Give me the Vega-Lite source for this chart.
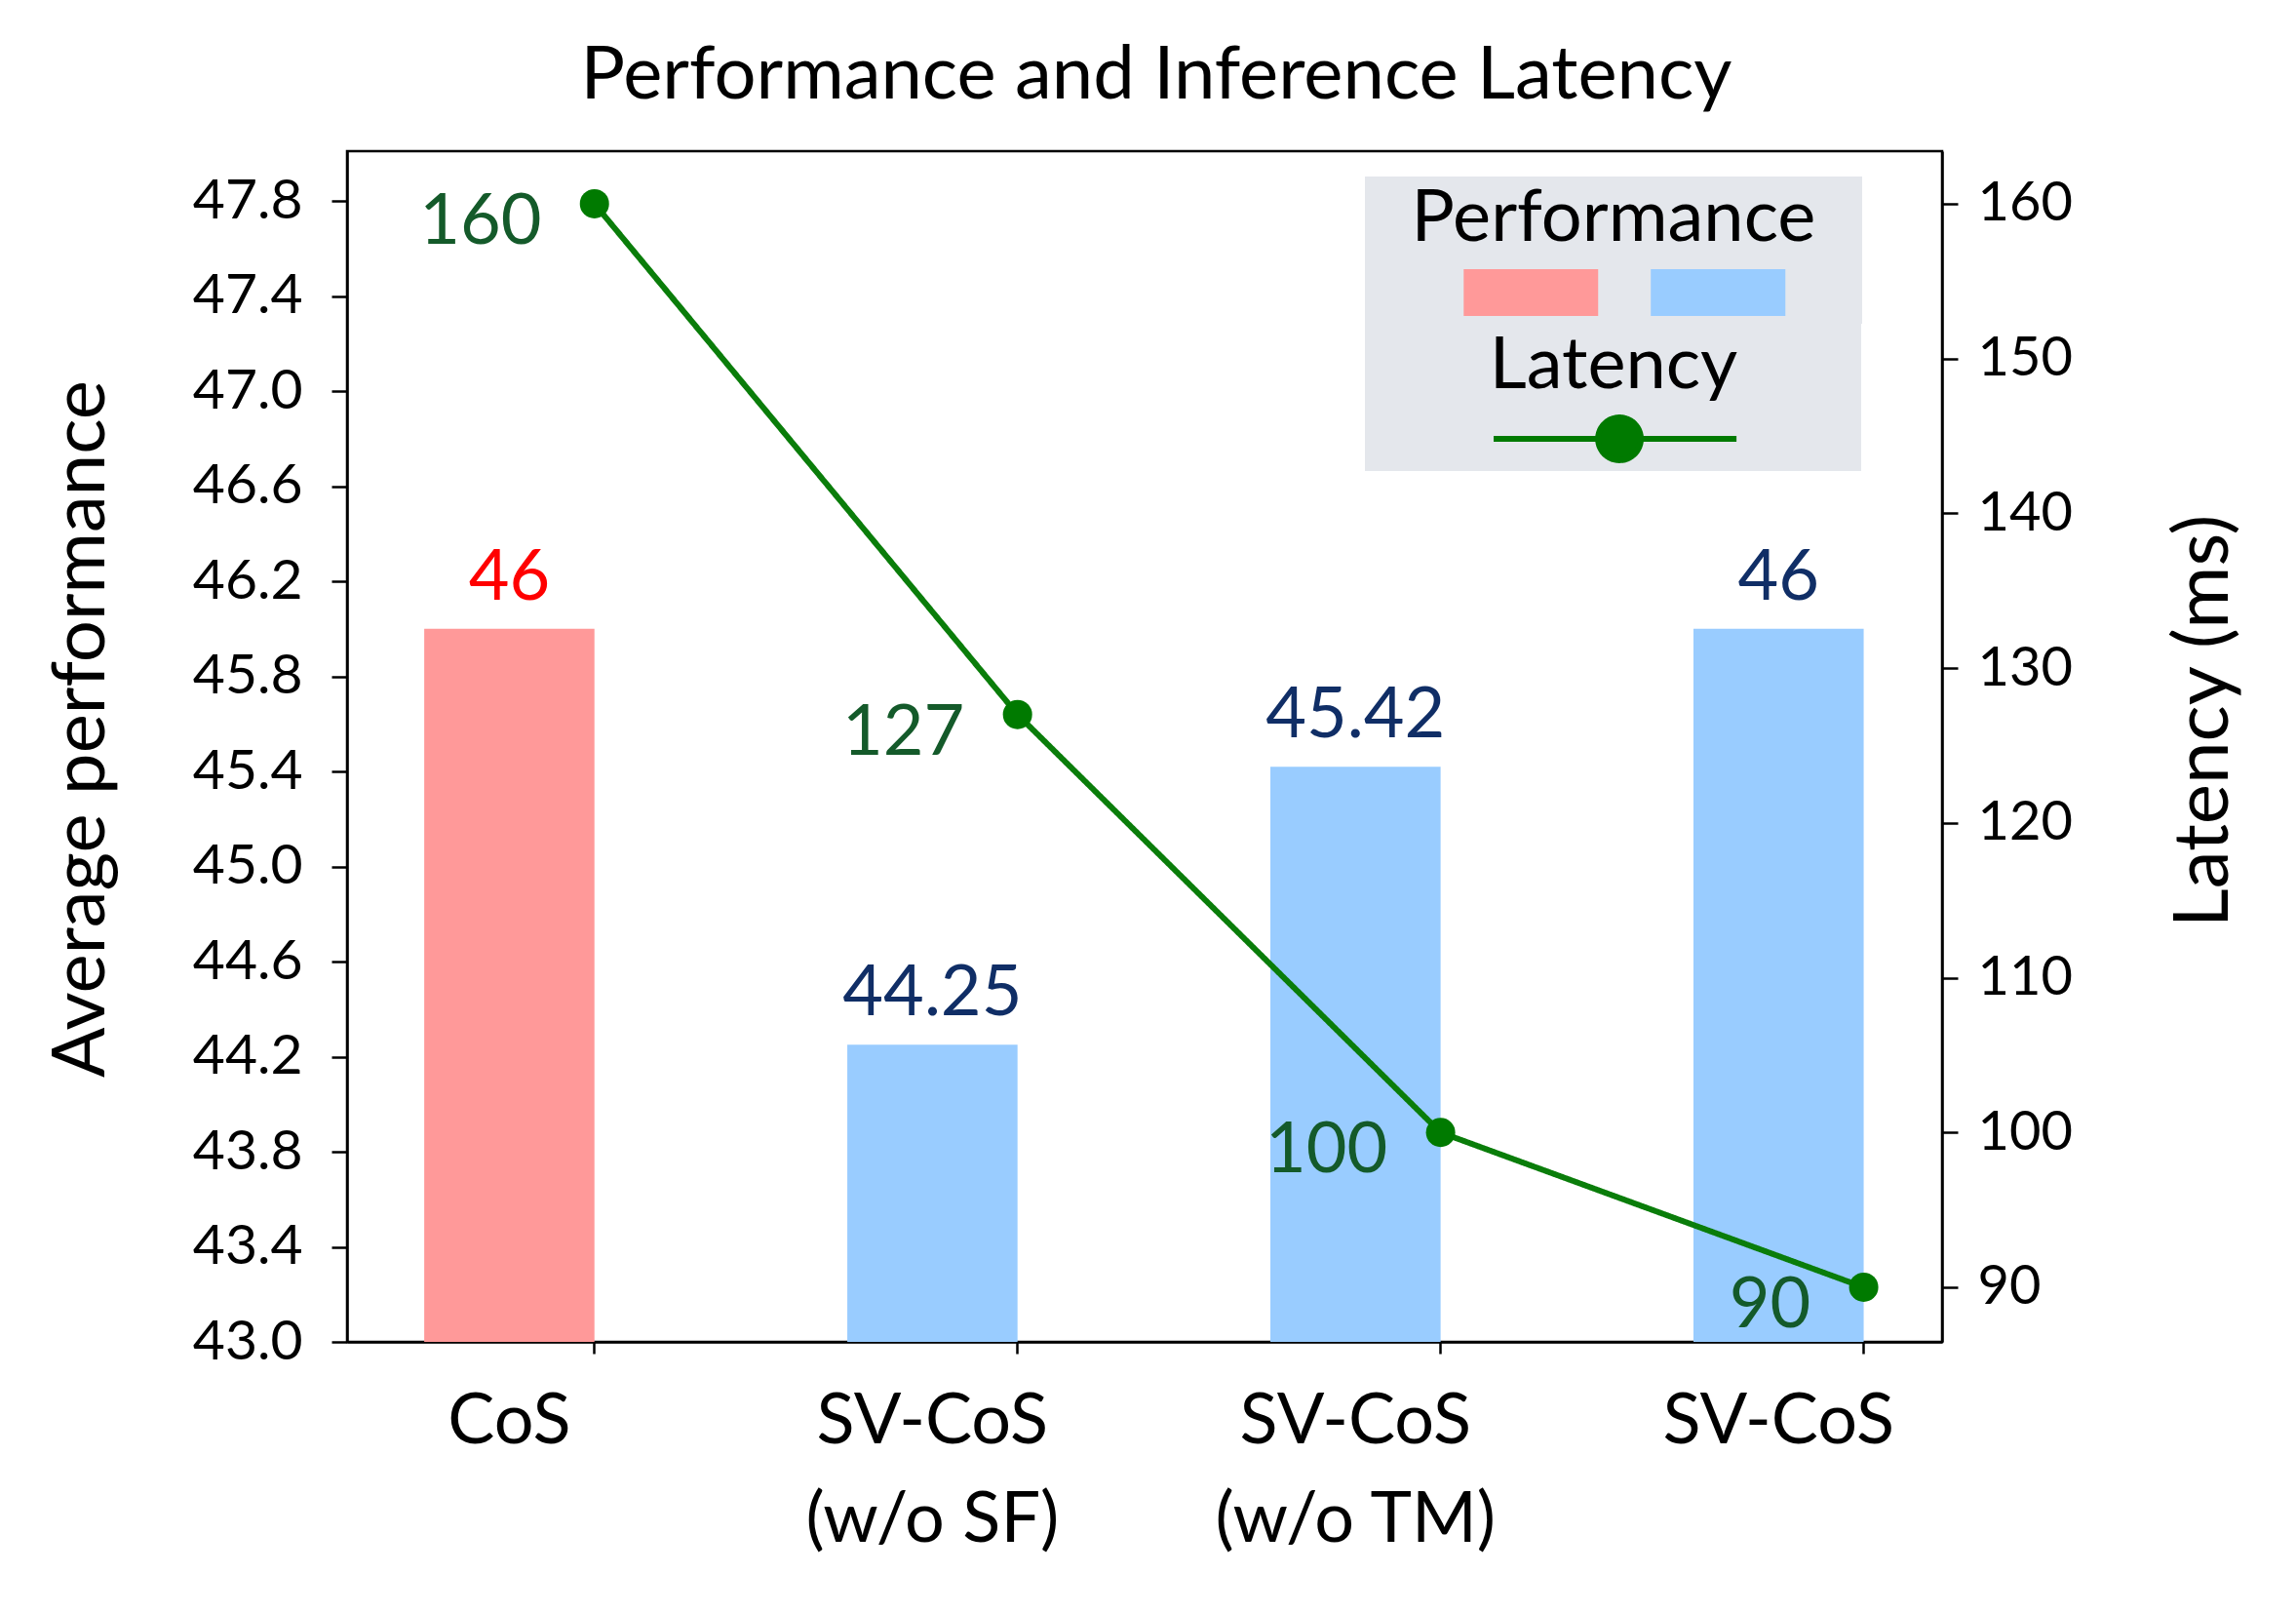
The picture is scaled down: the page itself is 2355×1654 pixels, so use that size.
{
  "$schema": "https://vega.github.io/schema/vega-lite/v6.json",
  "width": 1636,
  "height": 1221,
  "autosize": {"type": "none"},
  "padding": {"left": 356, "top": 155, "right": 363, "bottom": 278},
  "background": "white",
  "title": {
    "text": "Performance and Inference Latency",
    "font": "Lato",
    "fontSize": 76,
    "fontWeight": "normal",
    "color": "black",
    "anchor": "middle",
    "baseline": "bottom",
    "offset": -38,
    "dx": 12
  },
  "config": {
    "view": {"stroke": "black", "strokeWidth": 2.5},
    "font": "Lato",
    "axis": {
      "domainColor": "black",
      "domainWidth": 2.5,
      "tickColor": "black",
      "tickWidth": 2.5,
      "labelColor": "black",
      "titleColor": "black",
      "labelFont": "Lato",
      "titleFont": "Lato",
      "titleFontWeight": "normal",
      "labelLimit": 2000,
      "titleLimit": 3000,
      "grid": false
    }
  },
  "data": {
    "values": [
      {"method": "CoS", "pos": 0, "group": "CoS", "perf": 46, "latency": 160},
      {"method": "SV-CoS (w/o SF)", "pos": 1, "group": "SV-CoS", "perf": 44.25, "latency": 127},
      {"method": "SV-CoS (w/o TM)", "pos": 2, "group": "SV-CoS", "perf": 45.42, "latency": 100},
      {"method": "SV-CoS", "pos": 3, "group": "SV-CoS", "perf": 46, "latency": 90}
    ]
  },
  "encoding": {
    "x": {
      "field": "pos",
      "type": "quantitative",
      "scale": {"domain": [-0.372, 3.375], "nice": false, "zero": false},
      "axis": {
        "title": null,
        "values": [0.2, 1.2, 2.2, 3.2],
        "labelExpr": "datum.value < 0.5 ? 'CoS' : datum.value < 1.5 ? ['SV-CoS', '(w/o SF)'] : datum.value < 2.5 ? ['SV-CoS', '(w/o TM)'] : 'SV-CoS'",
        "labelOffset": -87.3,
        "labelFontSize": 72,
        "labelLineHeight": 101,
        "labelPadding": 34,
        "labelLimit": 2000,
        "tickSize": 12,
        "labelOverlap": false,
        "labelFlush": false,
        "labelBound": false
      }
    }
  },
  "layer": [
    {
      "encoding": {
        "y": {
          "field": "perf",
          "type": "quantitative",
          "scale": {"domain": [43, 48.01], "nice": false, "zero": false},
          "axis": {
            "orient": "left",
            "values": [43, 43.4, 43.8, 44.2, 44.6, 45, 45.4, 45.8, 46.2, 46.6, 47, 47.4, 47.8],
            "format": ".1f",
            "labelFontSize": 57,
            "labelPadding": 30,
            "tickSize": 16,
            "title": "Average performance",
            "titleFontSize": 76,
            "titlePadding": 75,
            "titleY": 592
          }
        }
      },
      "layer": [
        {
          "mark": {"type": "bar", "width": 174.6},
          "encoding": {
            "y2": {"datum": 43},
            "color": {
              "field": "group",
              "type": "nominal",
              "scale": {"domain": ["CoS", "SV-CoS"], "range": ["#ff9999", "#99ccff"]},
              "legend": {
                "title": "Performance",
                "orient": "none",
                "legendX": 1044,
                "legendY": 26,
                "direction": "horizontal",
                "columns": 2,
                "columnPadding": 0,
                "rowPadding": 0,
                "padding": 8,
                "fillColor": "#e4e7ec",
                "titleFont": "Lato",
                "titleFontSize": 74,
                "titleFontWeight": "normal",
                "titleColor": "black",
                "titleAnchor": "middle",
                "titlePadding": 13,
                "titleLimit": 2000,
                "labelExpr": "''",
                "labelOffset": 0,
                "labelFontSize": 10,
                "symbolSize": 60762,
                "symbolStrokeWidth": 0,
                "clipHeight": 48,
                "encode": {
                  "symbols": {
                    "update": {
                      "shape": {"signal": "datum.value === 'CoS' ? 'M-1,0L-1,0M1,0L1,0M-0.245,-0.195H0.874V0.195H-0.245Z' : 'M-1,0L-1,0M1,0L1,0M-0.692,-0.195H0.428V0.195H-0.692Z'"},
                      "fill": {"signal": "datum.value === 'CoS' ? '#ff9999' : '#87b2f5'"},
                      "stroke": {"value": "transparent"},
                      "strokeWidth": {"value": 0},
                      "size": {"value": 60762},
                      "opacity": {"value": 1}
                    }
                  }
                }
              }
            }
          }
        },
        {
          "mark": {"type": "text", "font": "Lato", "fontSize": 72, "align": "center", "baseline": "alphabetic", "dy": -30},
          "encoding": {
            "text": {"field": "perf", "type": "nominal"},
            "fill": {
              "field": "group",
              "type": "nominal",
              "scale": {"domain": ["CoS", "SV-CoS"], "range": ["#ff0000", "#102e66"]},
              "legend": null
            }
          }
        }
      ]
    },
    {
      "encoding": {
        "y": {
          "field": "latency",
          "type": "quantitative",
          "scale": {"domain": [86.47, 163.4], "nice": false, "zero": false},
          "axis": {
            "orient": "right",
            "values": [90, 100, 110, 120, 130, 140, 150, 160],
            "labelFontSize": 56,
            "labelPadding": 20,
            "tickSize": 16,
            "title": "Latency (ms)",
            "titleFontSize": 78,
            "titleAngle": 270,
            "titleBaseline": "top",
            "titlePadding": 97,
            "titleY": 584
          }
        }
      },
      "layer": [
        {
          "mark": {"type": "line", "color": "#0a7d0a", "strokeWidth": 6, "xOffset": 87.3},
          "encoding": {
            "strokeDash": {
              "datum": "Latency",
              "type": "nominal",
              "scale": {"range": [[1, 0]]},
              "legend": {
                "title": "Latency",
                "orient": "none",
                "legendX": 1044,
                "legendY": 177,
                "padding": 8,
                "fillColor": "#e4e7ec",
                "titleFont": "Lato",
                "titleFontSize": 74,
                "titleFontWeight": "normal",
                "titleColor": "black",
                "titleAnchor": "middle",
                "titlePadding": 11,
                "titleLimit": 2000,
                "labelExpr": "''",
                "labelOffset": 0,
                "labelFontSize": 10,
                "symbolType": "M-1,0L-1,0M1,0L1,0M-0.503,0H0.52M0.117,0A0.09,0.09,0,1,1,-0.063,0A0.09,0.09,0,1,1,0.117,0Z",
                "symbolSize": 237169,
                "symbolStrokeWidth": 6,
                "clipHeight": 50,
                "symbolFillColor": "green",
                "symbolStrokeColor": "green",
                "encode": {
                  "symbols": {
                    "update": {
                      "shape": {"value": "M-1,0L-1,0M1,0L1,0M-0.503,0H0.52M0.117,0A0.09,0.09,0,1,1,-0.063,0A0.09,0.09,0,1,1,0.117,0Z"},
                      "fill": {"value": "#007a00"},
                      "stroke": {"value": "#007a00"},
                      "strokeWidth": {"value": 6},
                      "size": {"value": 237169},
                      "opacity": {"value": 1}
                    }
                  }
                }
              }
            }
          }
        },
        {
          "mark": {"type": "point", "filled": true, "color": "#007a00", "size": 900, "opacity": 1, "xOffset": 87.3}
        },
        {
          "mark": {"type": "text", "font": "Lato", "fontSize": 72, "align": "right", "baseline": "alphabetic", "color": "#145a2a", "xOffset": 33, "dy": 41},
          "encoding": {
            "text": {"field": "latency", "type": "nominal"}
          }
        }
      ]
    }
  ],
  "resolve": {"scale": {"y": "independent"}}
}
